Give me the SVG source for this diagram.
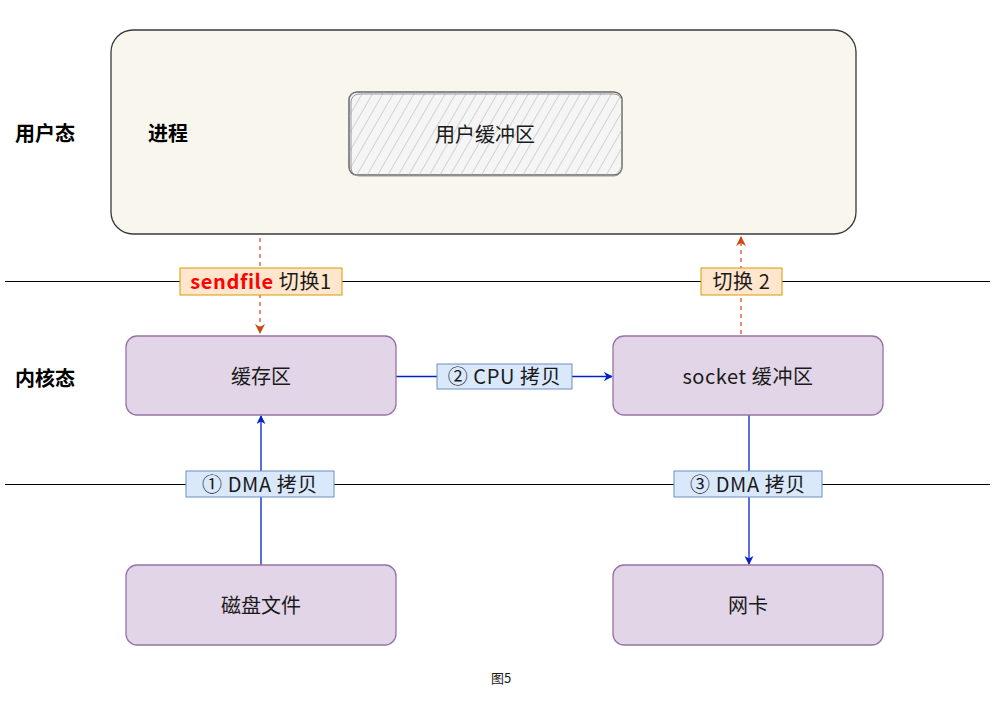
<svg xmlns="http://www.w3.org/2000/svg" width="995" height="701" viewBox="0 0 995 701">
<style>
.t{font-family:"Noto Sans CJK SC","Noto Sans",sans-serif;fill:#1a1a1a}
.b{font-weight:bold;font-size:20px;fill:#000}
.f{font-size:20px}
.l{font-size:20px;letter-spacing:0.6px}
.n{fill:#e1d5e7;stroke:#9673a6;stroke-width:1.3}
.lbl{fill:#dae8fc;stroke:#6c8ebf;stroke-width:1}
.sw{fill:#ffe6cc;stroke:#d79b00;stroke-width:1}
.blue{stroke:#0022cc;stroke-width:1.3;fill:none}
.red{stroke:#d9542a;stroke-width:1.3;fill:none;stroke-dasharray:4 4}
.sep{stroke:#000;stroke-width:1}
</style>
<defs>
<marker id="ab" viewBox="0 0 10 10" refX="9" refY="5" markerWidth="9" markerHeight="9" markerUnits="userSpaceOnUse" orient="auto"><path d="M0,0 L10,5 L0,10 L3,5 Z" fill="#0022cc"/></marker>
<marker id="ar" viewBox="0 0 10 10" refX="9" refY="5" markerWidth="10" markerHeight="10" markerUnits="userSpaceOnUse" orient="auto"><path d="M0,0 L10,5 L0,10 L3,5 Z" fill="#c84a12"/></marker>
<pattern id="hatch" width="9" height="9" patternUnits="userSpaceOnUse" patternTransform="rotate(30)">
<line x1="0" y1="0" x2="0" y2="9" stroke="#b0b0b0" stroke-width="1"/>
</pattern>
</defs>
<rect width="995" height="701" fill="#fff"/>
<g id="separators">
<line class="sep" x1="5" y1="281.5" x2="990" y2="281.5"/>
<line class="sep" x1="5" y1="484.5" x2="990" y2="484.5"/>
</g>
<g id="layer-labels">
<text class="t b" x="45" y="141" text-anchor="middle">用户态</text>
<text class="t b" x="45" y="386" text-anchor="middle">内核态</text>
</g>
<g id="process">
<rect x="111" y="30" width="745" height="204" rx="22" fill="#f9f7ed" stroke="#36393d" stroke-width="1.3"/>
<text class="t b" x="168" y="141" text-anchor="middle">进程</text>
</g>
<g id="user-buffer">
<rect x="349" y="92" width="273" height="83" rx="8" fill="#f5f5f5" stroke="#666" stroke-width="1.5"/>
<rect x="349" y="92" width="273" height="83" rx="8" fill="url(#hatch)"/>
<rect x="351" y="94" width="271" height="82" rx="8" fill="none" stroke="#999" stroke-width="1"/>
<text class="t f" x="485" y="142" text-anchor="middle" fill="#333">用户缓冲区</text>
</g>
<g id="connectors">
<line class="red" x1="260" y1="238" x2="260" y2="333" marker-end="url(#ar)"/>
<line class="red" x1="741" y1="334" x2="741" y2="237" marker-end="url(#ar)"/>
<line class="blue" x1="396" y1="376.5" x2="612" y2="376.5" marker-end="url(#ab)"/>
<line class="blue" x1="261" y1="565" x2="261" y2="416" marker-end="url(#ab)"/>
<line class="blue" x1="749" y1="415" x2="749" y2="564" marker-end="url(#ab)"/>
</g>
<g id="cache">
<rect class="n" x="126" y="336" width="270" height="79" rx="11"/>
<text class="t f" x="261" y="384" text-anchor="middle">缓存区</text>
</g>
<g id="socket">
<rect class="n" x="613" y="336" width="270" height="79" rx="11"/>
<text class="t l" x="748" y="384" text-anchor="middle">socket 缓冲区</text>
</g>
<g id="disk">
<rect class="n" x="126" y="565" width="270" height="80" rx="11"/>
<text class="t f" x="261" y="613" text-anchor="middle">磁盘文件</text>
</g>
<g id="nic">
<rect class="n" x="613" y="565" width="270" height="80" rx="11"/>
<text class="t f" x="748" y="613" text-anchor="middle">网卡</text>
</g>
<g id="label-sendfile">
<rect class="sw" x="180" y="268" width="162" height="27"/>
<text class="t l" x="261" y="289" text-anchor="middle"><tspan fill="#ff0000" font-weight="bold">sendfile</tspan> 切换1</text>
</g>
<g id="label-switch2">
<rect class="sw" x="701" y="268" width="81" height="27"/>
<text class="t l" x="741.5" y="289" text-anchor="middle">切换 2</text>
</g>
<g id="label-cpu">
<rect class="lbl" x="437" y="364" width="135" height="25"/>
<text class="t l" x="504.5" y="384" text-anchor="middle">② CPU 拷贝</text>
</g>
<g id="label-dma1">
<rect class="lbl" x="186" y="471" width="148" height="26"/>
<text class="t l" x="260" y="492" text-anchor="middle">① DMA 拷贝</text>
</g>
<g id="label-dma3">
<rect class="lbl" x="674" y="471" width="148" height="26"/>
<text class="t l" x="748" y="492" text-anchor="middle">③ DMA 拷贝</text>
</g>
<g id="caption">
<text class="t" x="501" y="683" text-anchor="middle" font-size="13" fill="#000">图5</text>
</g>
</svg>
